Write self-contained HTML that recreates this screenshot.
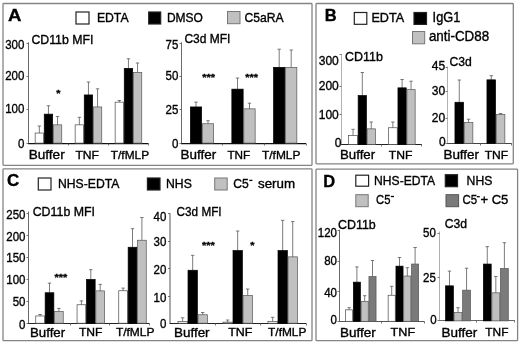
<!DOCTYPE html>
<html><head><meta charset="utf-8"><title>Figure</title>
<style>
html,body{margin:0;padding:0;background:#fff;}
svg{display:block;font-family:'Liberation Sans', Arial, Helvetica, sans-serif;fill:#000;will-change:transform;}
</style></head><body>
<svg width="520" height="345" viewBox="0 0 520 345">
<rect width="520" height="345" fill="#fff"/>
<rect x="3.0" y="3.5" width="309.00" height="161.80" rx="0.8" fill="#fff" stroke="#848484" stroke-width="1.3"/>
<rect x="316.0" y="3.5" width="197.30" height="160.30" rx="0.8" fill="#fff" stroke="#848484" stroke-width="1.3"/>
<rect x="3.0" y="168.8" width="309.00" height="171.90" rx="0.8" fill="#fff" stroke="#848484" stroke-width="1.3"/>
<rect x="316.0" y="169.2" width="201.60" height="171.50" rx="0.8" fill="#fff" stroke="#848484" stroke-width="1.3"/>
<text x="8.1" y="21.3" font-size="17.3" font-weight="bold" text-anchor="start" stroke="#000" stroke-width="0.36" textLength="13.4" lengthAdjust="spacingAndGlyphs">A</text>
<rect x="76" y="12" width="13.00" height="12.00" fill="#fff" stroke="#222" stroke-width="1.2"/>
<text x="96.9" y="22" font-size="13.0" font-weight="normal" text-anchor="start" stroke="#000" stroke-width="0.36" textLength="31.7" lengthAdjust="spacingAndGlyphs">EDTA</text>
<rect x="148.7" y="12" width="12.00" height="12.00" fill="#000" stroke="#222" stroke-width="1.2"/>
<text x="166.9" y="21.6" font-size="13.0" font-weight="normal" text-anchor="start" stroke="#000" stroke-width="0.36" textLength="36.0" lengthAdjust="spacingAndGlyphs">DMSO</text>
<rect x="227.5" y="11.5" width="12.50" height="12.20" fill="#c0c0c0" stroke="#777" stroke-width="1.0"/>
<text x="244.4" y="22" font-size="13.0" font-weight="normal" text-anchor="start" stroke="#000" stroke-width="0.36" textLength="39.2" lengthAdjust="spacingAndGlyphs">C5aRA</text>
<line x1="28.5" y1="42.3" x2="28.5" y2="143.5" stroke="#444" stroke-width="0.8"/>
<line x1="28.1" y1="143.5" x2="148.5" y2="143.5" stroke="#111" stroke-width="1.25"/>
<line x1="68.5" y1="143.5" x2="68.5" y2="145.5" stroke="#555" stroke-width="0.8"/>
<line x1="108.5" y1="143.5" x2="108.5" y2="145.5" stroke="#555" stroke-width="0.8"/>
<line x1="148.5" y1="143.5" x2="148.5" y2="145.5" stroke="#555" stroke-width="0.8"/>
<line x1="26.5" y1="43.5" x2="28.5" y2="43.5" stroke="#555" stroke-width="0.8"/>
<line x1="26.5" y1="76.5" x2="28.5" y2="76.5" stroke="#555" stroke-width="0.8"/>
<line x1="26.5" y1="109.5" x2="28.5" y2="109.5" stroke="#555" stroke-width="0.8"/>
<line x1="26.5" y1="143.5" x2="28.5" y2="143.5" stroke="#555" stroke-width="0.8"/>
<text x="5.199999999999999" y="48.6" font-size="13.0" font-weight="normal" text-anchor="start" stroke="#000" stroke-width="0.36" textLength="19.2" lengthAdjust="spacingAndGlyphs">300</text>
<text x="5.199999999999999" y="80.3" font-size="13.0" font-weight="normal" text-anchor="start" stroke="#000" stroke-width="0.36" textLength="19.2" lengthAdjust="spacingAndGlyphs">200</text>
<text x="5.199999999999999" y="113.3" font-size="13.0" font-weight="normal" text-anchor="start" stroke="#000" stroke-width="0.36" textLength="19.2" lengthAdjust="spacingAndGlyphs">100</text>
<text x="18.0" y="147.9" font-size="13.0" font-weight="normal" text-anchor="start" stroke="#000" stroke-width="0.36" textLength="6.4" lengthAdjust="spacingAndGlyphs">0</text>
<text x="31.4" y="43.5" font-size="13.0" font-weight="normal" text-anchor="start" stroke="#000" stroke-width="0.36" textLength="62.0" lengthAdjust="spacingAndGlyphs">CD11b MFI</text>
<line x1="39.35" y1="126" x2="39.35" y2="133.2" stroke="#505050" stroke-width="0.75"/>
<line x1="37.65" y1="126" x2="41.050000000000004" y2="126" stroke="#505050" stroke-width="0.75"/>
<rect x="35.15" y="133.05" width="8.40" height="10.05" fill="#fff" stroke="#4a4a4a" stroke-width="0.7"/>
<line x1="48.45" y1="105.8" x2="48.45" y2="114.3" stroke="#505050" stroke-width="0.75"/>
<line x1="46.75" y1="105.8" x2="50.150000000000006" y2="105.8" stroke="#505050" stroke-width="0.75"/>
<rect x="44.25" y="114.15" width="8.40" height="28.95" fill="#000" stroke="#000" stroke-width="0.7"/>
<line x1="57.55" y1="116.5" x2="57.55" y2="125.0" stroke="#505050" stroke-width="0.75"/>
<line x1="55.849999999999994" y1="116.5" x2="59.25" y2="116.5" stroke="#505050" stroke-width="0.75"/>
<rect x="53.35" y="124.85" width="8.40" height="18.25" fill="#c0c0c0" stroke="#555" stroke-width="0.7"/>
<line x1="79.35" y1="117.3" x2="79.35" y2="125.0" stroke="#505050" stroke-width="0.75"/>
<line x1="77.64999999999999" y1="117.3" x2="81.05" y2="117.3" stroke="#505050" stroke-width="0.75"/>
<rect x="75.15" y="124.85" width="8.40" height="18.25" fill="#fff" stroke="#4a4a4a" stroke-width="0.7"/>
<line x1="88.45" y1="82" x2="88.45" y2="95.1" stroke="#505050" stroke-width="0.75"/>
<line x1="86.75" y1="82" x2="90.15" y2="82" stroke="#505050" stroke-width="0.75"/>
<rect x="84.25" y="94.95" width="8.40" height="48.15" fill="#000" stroke="#000" stroke-width="0.7"/>
<line x1="97.55" y1="88.8" x2="97.55" y2="107.1" stroke="#505050" stroke-width="0.75"/>
<line x1="95.85" y1="88.8" x2="99.25" y2="88.8" stroke="#505050" stroke-width="0.75"/>
<rect x="93.35" y="106.95" width="8.40" height="36.15" fill="#c0c0c0" stroke="#555" stroke-width="0.7"/>
<line x1="119.35" y1="100.5" x2="119.35" y2="102.3" stroke="#505050" stroke-width="0.75"/>
<line x1="117.64999999999999" y1="100.5" x2="121.05" y2="100.5" stroke="#505050" stroke-width="0.75"/>
<rect x="115.15" y="102.15" width="8.40" height="40.95" fill="#fff" stroke="#4a4a4a" stroke-width="0.7"/>
<line x1="128.45" y1="58.75" x2="128.45" y2="68.5" stroke="#505050" stroke-width="0.75"/>
<line x1="126.74999999999999" y1="58.75" x2="130.14999999999998" y2="58.75" stroke="#505050" stroke-width="0.75"/>
<rect x="124.25" y="68.35" width="8.40" height="74.75" fill="#000" stroke="#000" stroke-width="0.7"/>
<line x1="137.55" y1="63" x2="137.55" y2="72.5" stroke="#505050" stroke-width="0.75"/>
<line x1="135.85000000000002" y1="63" x2="139.25" y2="63" stroke="#505050" stroke-width="0.75"/>
<rect x="133.35" y="72.35" width="8.40" height="70.75" fill="#c0c0c0" stroke="#555" stroke-width="0.7"/>
<text x="56.38" y="95.9" font-size="9" font-weight="bold" stroke="#000" stroke-width="0.3" textLength="4.25" lengthAdjust="spacingAndGlyphs">*</text>
<text x="28.7" y="159.0" font-size="13.0" font-weight="normal" text-anchor="start" stroke="#000" stroke-width="0.36" textLength="36.0" lengthAdjust="spacingAndGlyphs">Buffer</text>
<text x="75.4" y="158.6" font-size="11.4" font-weight="normal" text-anchor="start" stroke="#000" stroke-width="0.36" textLength="23.6" lengthAdjust="spacingAndGlyphs">TNF</text>
<text x="110.8" y="158.6" font-size="11.8" font-weight="normal" text-anchor="start" stroke="#000" stroke-width="0.36" textLength="38.3" lengthAdjust="spacingAndGlyphs">T/fMLP</text>
<line x1="181.5" y1="42.3" x2="181.5" y2="143.5" stroke="#444" stroke-width="0.8"/>
<line x1="181.1" y1="143.5" x2="306" y2="143.5" stroke="#111" stroke-width="1.25"/>
<line x1="222.5" y1="143.5" x2="222.5" y2="145.5" stroke="#555" stroke-width="0.8"/>
<line x1="264.5" y1="143.5" x2="264.5" y2="145.5" stroke="#555" stroke-width="0.8"/>
<line x1="306.5" y1="143.5" x2="306.5" y2="145.5" stroke="#555" stroke-width="0.8"/>
<line x1="179.5" y1="43.5" x2="181.5" y2="43.5" stroke="#555" stroke-width="0.8"/>
<line x1="179.5" y1="76.5" x2="181.5" y2="76.5" stroke="#555" stroke-width="0.8"/>
<line x1="179.5" y1="109.5" x2="181.5" y2="109.5" stroke="#555" stroke-width="0.8"/>
<line x1="179.5" y1="143.5" x2="181.5" y2="143.5" stroke="#555" stroke-width="0.8"/>
<text x="165.5" y="48.6" font-size="13.0" font-weight="normal" text-anchor="start" stroke="#000" stroke-width="0.36" textLength="12.8" lengthAdjust="spacingAndGlyphs">75</text>
<text x="165.5" y="80.3" font-size="13.0" font-weight="normal" text-anchor="start" stroke="#000" stroke-width="0.36" textLength="12.8" lengthAdjust="spacingAndGlyphs">50</text>
<text x="165.5" y="113.6" font-size="13.0" font-weight="normal" text-anchor="start" stroke="#000" stroke-width="0.36" textLength="12.8" lengthAdjust="spacingAndGlyphs">25</text>
<text x="171.9" y="147.8" font-size="13.0" font-weight="normal" text-anchor="start" stroke="#000" stroke-width="0.36" textLength="6.4" lengthAdjust="spacingAndGlyphs">0</text>
<text x="184.4" y="43" font-size="13.0" font-weight="normal" text-anchor="start" stroke="#000" stroke-width="0.36" textLength="46.0" lengthAdjust="spacingAndGlyphs">C3d MFI</text>
<line x1="196.0" y1="102.1" x2="196.0" y2="107.1" stroke="#505050" stroke-width="0.75"/>
<line x1="194.3" y1="102.1" x2="197.7" y2="102.1" stroke="#505050" stroke-width="0.75"/>
<rect x="190.35" y="106.95" width="11.30" height="36.15" fill="#000" stroke="#000" stroke-width="0.7"/>
<line x1="208.0" y1="120.7" x2="208.0" y2="123.9" stroke="#505050" stroke-width="0.75"/>
<line x1="206.3" y1="120.7" x2="209.7" y2="120.7" stroke="#505050" stroke-width="0.75"/>
<rect x="202.35" y="123.75" width="11.30" height="19.35" fill="#c0c0c0" stroke="#555" stroke-width="0.7"/>
<line x1="237.5" y1="78" x2="237.5" y2="89.3" stroke="#505050" stroke-width="0.75"/>
<line x1="235.8" y1="78" x2="239.2" y2="78" stroke="#505050" stroke-width="0.75"/>
<rect x="231.85" y="89.15" width="11.30" height="53.95" fill="#000" stroke="#000" stroke-width="0.7"/>
<line x1="249.5" y1="103.2" x2="249.5" y2="109.0" stroke="#505050" stroke-width="0.75"/>
<line x1="247.8" y1="103.2" x2="251.2" y2="103.2" stroke="#505050" stroke-width="0.75"/>
<rect x="243.85" y="108.85" width="11.30" height="34.25" fill="#c0c0c0" stroke="#555" stroke-width="0.7"/>
<line x1="279.2" y1="49.2" x2="279.2" y2="67.5" stroke="#505050" stroke-width="0.75"/>
<line x1="277.5" y1="49.2" x2="280.9" y2="49.2" stroke="#505050" stroke-width="0.75"/>
<rect x="273.55" y="67.35" width="11.30" height="75.75" fill="#000" stroke="#000" stroke-width="0.7"/>
<line x1="291.2" y1="50" x2="291.2" y2="67.5" stroke="#505050" stroke-width="0.75"/>
<line x1="289.5" y1="50" x2="292.9" y2="50" stroke="#505050" stroke-width="0.75"/>
<rect x="285.55" y="67.35" width="11.30" height="75.75" fill="#c0c0c0" stroke="#555" stroke-width="0.7"/>
<text x="202.22" y="80.3" font-size="9" font-weight="bold" stroke="#000" stroke-width="0.3" textLength="12.75" lengthAdjust="spacingAndGlyphs">***</text>
<text x="245.32" y="80.3" font-size="9" font-weight="bold" stroke="#000" stroke-width="0.3" textLength="12.75" lengthAdjust="spacingAndGlyphs">***</text>
<text x="180.6" y="159.0" font-size="13.0" font-weight="normal" text-anchor="start" stroke="#000" stroke-width="0.36" textLength="35.7" lengthAdjust="spacingAndGlyphs">Buffer</text>
<text x="227.4" y="158.6" font-size="11.4" font-weight="normal" text-anchor="start" stroke="#000" stroke-width="0.36" textLength="22.8" lengthAdjust="spacingAndGlyphs">TNF</text>
<text x="262.0" y="158.6" font-size="11.8" font-weight="normal" text-anchor="start" stroke="#000" stroke-width="0.36" textLength="38.4" lengthAdjust="spacingAndGlyphs">T/fMLP</text>
<text x="324.7" y="20.8" font-size="17.3" font-weight="bold" text-anchor="start" stroke="#000" stroke-width="0.36" textLength="11.9" lengthAdjust="spacingAndGlyphs">B</text>
<rect x="354.3" y="12.5" width="12.50" height="11.80" fill="#fff" stroke="#222" stroke-width="1.2"/>
<text x="371.4" y="22" font-size="13.0" font-weight="normal" text-anchor="start" stroke="#000" stroke-width="0.36" textLength="32.7" lengthAdjust="spacingAndGlyphs">EDTA</text>
<rect x="414" y="12.5" width="12.50" height="11.90" fill="#000" stroke="#222" stroke-width="1.2"/>
<text x="432.6" y="22.2" font-size="14" font-weight="normal" text-anchor="start" stroke="#000" stroke-width="0.36" textLength="27.8" lengthAdjust="spacingAndGlyphs">IgG1</text>
<rect x="412.5" y="31.5" width="12.20" height="12.30" fill="#c0c0c0" stroke="#777" stroke-width="1.0"/>
<text x="428.9" y="41.4" font-size="14" font-weight="normal" text-anchor="start" stroke="#000" stroke-width="0.36" textLength="60.2" lengthAdjust="spacingAndGlyphs">anti-CD88</text>
<line x1="341.5" y1="54" x2="341.5" y2="144.5" stroke="#a0a0a0" stroke-width="0.8"/>
<line x1="341.1" y1="144.5" x2="421.8" y2="144.5" stroke="#222" stroke-width="1.0"/>
<line x1="381.5" y1="144.5" x2="381.5" y2="146.5" stroke="#555" stroke-width="0.8"/>
<line x1="421.5" y1="144.5" x2="421.5" y2="146.5" stroke="#555" stroke-width="0.8"/>
<line x1="339.5" y1="54.5" x2="341.5" y2="54.5" stroke="#555" stroke-width="0.8"/>
<line x1="339.5" y1="86.5" x2="341.5" y2="86.5" stroke="#555" stroke-width="0.8"/>
<line x1="339.5" y1="114.5" x2="341.5" y2="114.5" stroke="#555" stroke-width="0.8"/>
<text x="318.7" y="64.5" font-size="13.0" font-weight="normal" text-anchor="start" stroke="#000" stroke-width="0.36" textLength="20.1" lengthAdjust="spacingAndGlyphs">300</text>
<text x="318.7" y="90.3" font-size="13.0" font-weight="normal" text-anchor="start" stroke="#000" stroke-width="0.36" textLength="20.1" lengthAdjust="spacingAndGlyphs">200</text>
<text x="318.7" y="118.9" font-size="13.0" font-weight="normal" text-anchor="start" stroke="#000" stroke-width="0.36" textLength="20.1" lengthAdjust="spacingAndGlyphs">100</text>
<text x="334.7" y="146.5" font-size="13.0" font-weight="normal" text-anchor="start" stroke="#000" stroke-width="0.36" textLength="6.7" lengthAdjust="spacingAndGlyphs">0</text>
<text x="345.1" y="61.2" font-size="13.0" font-weight="normal" text-anchor="start" stroke="#000" stroke-width="0.36" textLength="37.8" lengthAdjust="spacingAndGlyphs">CD11b</text>
<line x1="353.05" y1="129.3" x2="353.05" y2="135.6" stroke="#505050" stroke-width="0.75"/>
<line x1="351.35" y1="129.3" x2="354.75" y2="129.3" stroke="#505050" stroke-width="0.75"/>
<rect x="348.65" y="135.45" width="8.80" height="8.95" fill="#fff" stroke="#4a4a4a" stroke-width="0.7"/>
<line x1="362.3" y1="72.5" x2="362.3" y2="95.7" stroke="#505050" stroke-width="0.75"/>
<line x1="360.6" y1="72.5" x2="364.0" y2="72.5" stroke="#505050" stroke-width="0.75"/>
<rect x="358.15" y="95.55" width="8.30" height="48.85" fill="#000" stroke="#000" stroke-width="0.7"/>
<line x1="371.25" y1="122" x2="371.25" y2="129.0" stroke="#505050" stroke-width="0.75"/>
<line x1="369.55" y1="122" x2="372.95" y2="122" stroke="#505050" stroke-width="0.75"/>
<rect x="367.15" y="128.85" width="8.20" height="15.55" fill="#c0c0c0" stroke="#555" stroke-width="0.7"/>
<line x1="392.85" y1="122" x2="392.85" y2="127.9" stroke="#505050" stroke-width="0.75"/>
<line x1="391.15000000000003" y1="122" x2="394.55" y2="122" stroke="#505050" stroke-width="0.75"/>
<rect x="388.45" y="127.75" width="8.80" height="16.65" fill="#fff" stroke="#4a4a4a" stroke-width="0.7"/>
<line x1="402.1" y1="79.5" x2="402.1" y2="88.0" stroke="#505050" stroke-width="0.75"/>
<line x1="400.40000000000003" y1="79.5" x2="403.8" y2="79.5" stroke="#505050" stroke-width="0.75"/>
<rect x="397.95" y="87.85" width="8.30" height="56.55" fill="#000" stroke="#000" stroke-width="0.7"/>
<line x1="411.05" y1="81.2" x2="411.05" y2="89.8" stroke="#505050" stroke-width="0.75"/>
<line x1="409.35" y1="81.2" x2="412.75" y2="81.2" stroke="#505050" stroke-width="0.75"/>
<rect x="406.95" y="89.65" width="8.20" height="54.75" fill="#c0c0c0" stroke="#555" stroke-width="0.7"/>
<text x="340.0" y="159.0" font-size="13.0" font-weight="normal" text-anchor="start" stroke="#000" stroke-width="0.36" textLength="35.1" lengthAdjust="spacingAndGlyphs">Buffer</text>
<text x="388.8" y="158.6" font-size="11.4" font-weight="normal" text-anchor="start" stroke="#000" stroke-width="0.36" textLength="23.6" lengthAdjust="spacingAndGlyphs">TNF</text>
<line x1="447.5" y1="66.5" x2="447.5" y2="143.5" stroke="#a0a0a0" stroke-width="0.8"/>
<line x1="447.1" y1="143.5" x2="511.7" y2="143.5" stroke="#444" stroke-width="1.0"/>
<line x1="480.5" y1="143.5" x2="480.5" y2="145.5" stroke="#555" stroke-width="0.8"/>
<line x1="511.5" y1="143.5" x2="511.5" y2="145.5" stroke="#555" stroke-width="0.8"/>
<line x1="445.5" y1="67.5" x2="447.5" y2="67.5" stroke="#555" stroke-width="0.8"/>
<line x1="445.5" y1="91.5" x2="447.5" y2="91.5" stroke="#555" stroke-width="0.8"/>
<line x1="445.5" y1="118.5" x2="447.5" y2="118.5" stroke="#555" stroke-width="0.8"/>
<line x1="445.5" y1="143.5" x2="447.5" y2="143.5" stroke="#555" stroke-width="0.8"/>
<text x="431.8" y="70.0" font-size="13.0" font-weight="normal" text-anchor="start" stroke="#000" stroke-width="0.36" textLength="13.4" lengthAdjust="spacingAndGlyphs">45</text>
<text x="431.8" y="94.8" font-size="13.0" font-weight="normal" text-anchor="start" stroke="#000" stroke-width="0.36" textLength="13.4" lengthAdjust="spacingAndGlyphs">30</text>
<text x="431.8" y="122.4" font-size="13.0" font-weight="normal" text-anchor="start" stroke="#000" stroke-width="0.36" textLength="13.4" lengthAdjust="spacingAndGlyphs">20</text>
<text x="438.90000000000003" y="146.2" font-size="13.0" font-weight="normal" text-anchor="start" stroke="#000" stroke-width="0.36" textLength="6.7" lengthAdjust="spacingAndGlyphs">0</text>
<text x="449.4" y="65.5" font-size="13.0" font-weight="normal" text-anchor="start" stroke="#000" stroke-width="0.36" textLength="22.3" lengthAdjust="spacingAndGlyphs">C3d</text>
<line x1="459.25" y1="80" x2="459.25" y2="102.4" stroke="#505050" stroke-width="0.75"/>
<line x1="457.55" y1="80" x2="460.95" y2="80" stroke="#505050" stroke-width="0.75"/>
<rect x="454.95" y="102.25" width="8.60" height="41.05" fill="#000" stroke="#000" stroke-width="0.7"/>
<line x1="468.55" y1="119.2" x2="468.55" y2="122.6" stroke="#505050" stroke-width="0.75"/>
<line x1="466.85" y1="119.2" x2="470.25" y2="119.2" stroke="#505050" stroke-width="0.75"/>
<rect x="464.25" y="122.45" width="8.60" height="20.85" fill="#c0c0c0" stroke="#555" stroke-width="0.7"/>
<line x1="491.25" y1="75.7" x2="491.25" y2="80.0" stroke="#505050" stroke-width="0.75"/>
<line x1="489.55" y1="75.7" x2="492.95" y2="75.7" stroke="#505050" stroke-width="0.75"/>
<rect x="486.95" y="79.85" width="8.60" height="63.45" fill="#000" stroke="#000" stroke-width="0.7"/>
<line x1="500.55" y1="113.5" x2="500.55" y2="114.6" stroke="#505050" stroke-width="0.75"/>
<line x1="498.85" y1="113.5" x2="502.25" y2="113.5" stroke="#505050" stroke-width="0.75"/>
<rect x="496.25" y="114.45" width="8.60" height="28.85" fill="#c0c0c0" stroke="#555" stroke-width="0.7"/>
<text x="443.4" y="159.0" font-size="13.0" font-weight="normal" text-anchor="start" stroke="#000" stroke-width="0.36" textLength="35.7" lengthAdjust="spacingAndGlyphs">Buffer</text>
<text x="484.7" y="158.6" font-size="11.4" font-weight="normal" text-anchor="start" stroke="#000" stroke-width="0.36" textLength="23.5" lengthAdjust="spacingAndGlyphs">TNF</text>
<text x="6.9" y="186.3" font-size="17.3" font-weight="bold" text-anchor="start" stroke="#000" stroke-width="0.36" textLength="12.2" lengthAdjust="spacingAndGlyphs">C</text>
<rect x="38.3" y="178" width="12.70" height="12.00" fill="#fff" stroke="#222" stroke-width="1.2"/>
<text x="58.0" y="188" font-size="13.0" font-weight="normal" text-anchor="start" stroke="#000" stroke-width="0.36" textLength="61.4" lengthAdjust="spacingAndGlyphs">NHS-EDTA</text>
<rect x="147.4" y="178" width="12.60" height="12.00" fill="#000" stroke="#222" stroke-width="1.2"/>
<text x="166.0" y="188" font-size="13.0" font-weight="normal" text-anchor="start" stroke="#000" stroke-width="0.36" textLength="25.8" lengthAdjust="spacingAndGlyphs">NHS</text>
<rect x="214.7" y="178" width="12.50" height="12.00" fill="#c0c0c0" stroke="#777" stroke-width="1.0"/>
<text x="233.2" y="188" font-size="13.0" font-weight="normal" text-anchor="start" stroke="#000" stroke-width="0.36" textLength="15.5" lengthAdjust="spacingAndGlyphs">C5</text>
<line x1="249.3" y1="180.4" x2="252.4" y2="180.4" stroke="#000" stroke-width="1.3"/>
<text x="258.0" y="188" font-size="13.0" font-weight="normal" text-anchor="start" stroke="#000" stroke-width="0.36" textLength="37.0" lengthAdjust="spacingAndGlyphs">serum</text>
<line x1="28.5" y1="211.5" x2="28.5" y2="323.5" stroke="#444" stroke-width="0.8"/>
<line x1="28.1" y1="323.5" x2="149.5" y2="323.5" stroke="#222" stroke-width="1.0"/>
<line x1="70.5" y1="323.5" x2="70.5" y2="325.5" stroke="#555" stroke-width="0.8"/>
<line x1="109.5" y1="323.5" x2="109.5" y2="325.5" stroke="#555" stroke-width="0.8"/>
<line x1="149.5" y1="323.5" x2="149.5" y2="325.5" stroke="#555" stroke-width="0.8"/>
<line x1="26.5" y1="213.5" x2="28.5" y2="213.5" stroke="#555" stroke-width="0.8"/>
<line x1="26.5" y1="235.5" x2="28.5" y2="235.5" stroke="#555" stroke-width="0.8"/>
<line x1="26.5" y1="257.5" x2="28.5" y2="257.5" stroke="#555" stroke-width="0.8"/>
<line x1="26.5" y1="279.5" x2="28.5" y2="279.5" stroke="#555" stroke-width="0.8"/>
<line x1="26.5" y1="301.5" x2="28.5" y2="301.5" stroke="#555" stroke-width="0.8"/>
<line x1="26.5" y1="323.5" x2="28.5" y2="323.5" stroke="#555" stroke-width="0.8"/>
<text x="6.300000000000001" y="218.9" font-size="13.0" font-weight="normal" text-anchor="start" stroke="#000" stroke-width="0.36" textLength="19.2" lengthAdjust="spacingAndGlyphs">250</text>
<text x="6.300000000000001" y="241.0" font-size="13.0" font-weight="normal" text-anchor="start" stroke="#000" stroke-width="0.36" textLength="19.2" lengthAdjust="spacingAndGlyphs">200</text>
<text x="6.300000000000001" y="262.1" font-size="13.0" font-weight="normal" text-anchor="start" stroke="#000" stroke-width="0.36" textLength="19.2" lengthAdjust="spacingAndGlyphs">150</text>
<text x="6.300000000000001" y="283.5" font-size="13.0" font-weight="normal" text-anchor="start" stroke="#000" stroke-width="0.36" textLength="19.2" lengthAdjust="spacingAndGlyphs">100</text>
<text x="12.7" y="305.5" font-size="13.0" font-weight="normal" text-anchor="start" stroke="#000" stroke-width="0.36" textLength="12.8" lengthAdjust="spacingAndGlyphs">50</text>
<text x="19.1" y="328.7" font-size="13.0" font-weight="normal" text-anchor="start" stroke="#000" stroke-width="0.36" textLength="6.4" lengthAdjust="spacingAndGlyphs">0</text>
<text x="32.7" y="215.5" font-size="13.0" font-weight="normal" text-anchor="start" stroke="#000" stroke-width="0.36" textLength="62.3" lengthAdjust="spacingAndGlyphs">CD11b MFI</text>
<line x1="40.1" y1="314.5" x2="40.1" y2="316.1" stroke="#505050" stroke-width="0.75"/>
<line x1="38.4" y1="314.5" x2="41.800000000000004" y2="314.5" stroke="#505050" stroke-width="0.75"/>
<rect x="35.75" y="315.95" width="8.70" height="7.25" fill="#fff" stroke="#4a4a4a" stroke-width="0.7"/>
<line x1="49.5" y1="283.1" x2="49.5" y2="292.9" stroke="#505050" stroke-width="0.75"/>
<line x1="47.8" y1="283.1" x2="51.2" y2="283.1" stroke="#505050" stroke-width="0.75"/>
<rect x="45.15" y="292.75" width="8.70" height="30.45" fill="#000" stroke="#000" stroke-width="0.7"/>
<line x1="58.9" y1="308.4" x2="58.9" y2="311.6" stroke="#505050" stroke-width="0.75"/>
<line x1="57.199999999999996" y1="308.4" x2="60.6" y2="308.4" stroke="#505050" stroke-width="0.75"/>
<rect x="54.55" y="311.45" width="8.70" height="11.75" fill="#c0c0c0" stroke="#555" stroke-width="0.7"/>
<line x1="81.4" y1="300.9" x2="81.4" y2="304.9" stroke="#505050" stroke-width="0.75"/>
<line x1="79.7" y1="300.9" x2="83.10000000000001" y2="300.9" stroke="#505050" stroke-width="0.75"/>
<rect x="77.05" y="304.75" width="8.70" height="18.45" fill="#fff" stroke="#4a4a4a" stroke-width="0.7"/>
<line x1="90.8" y1="269.7" x2="90.8" y2="279.6" stroke="#505050" stroke-width="0.75"/>
<line x1="89.1" y1="269.7" x2="92.5" y2="269.7" stroke="#505050" stroke-width="0.75"/>
<rect x="86.45" y="279.45" width="8.70" height="43.75" fill="#000" stroke="#000" stroke-width="0.7"/>
<line x1="100.2" y1="284.4" x2="100.2" y2="291.0" stroke="#505050" stroke-width="0.75"/>
<line x1="98.5" y1="284.4" x2="101.9" y2="284.4" stroke="#505050" stroke-width="0.75"/>
<rect x="95.85" y="290.85" width="8.70" height="32.35" fill="#c0c0c0" stroke="#555" stroke-width="0.7"/>
<line x1="123.1" y1="288.1" x2="123.1" y2="290.9" stroke="#505050" stroke-width="0.75"/>
<line x1="121.39999999999999" y1="288.1" x2="124.8" y2="288.1" stroke="#505050" stroke-width="0.75"/>
<rect x="118.75" y="290.75" width="8.70" height="32.45" fill="#fff" stroke="#4a4a4a" stroke-width="0.7"/>
<line x1="132.5" y1="228.7" x2="132.5" y2="247.4" stroke="#505050" stroke-width="0.75"/>
<line x1="130.8" y1="228.7" x2="134.2" y2="228.7" stroke="#505050" stroke-width="0.75"/>
<rect x="128.15" y="247.25" width="8.70" height="75.95" fill="#000" stroke="#000" stroke-width="0.7"/>
<line x1="141.9" y1="217.5" x2="141.9" y2="240.4" stroke="#505050" stroke-width="0.75"/>
<line x1="140.20000000000002" y1="217.5" x2="143.6" y2="217.5" stroke="#505050" stroke-width="0.75"/>
<rect x="137.55" y="240.25" width="8.70" height="82.95" fill="#c0c0c0" stroke="#555" stroke-width="0.7"/>
<text x="54.62" y="280.3" font-size="9" font-weight="bold" stroke="#000" stroke-width="0.3" textLength="12.75" lengthAdjust="spacingAndGlyphs">***</text>
<text x="30.0" y="336.5" font-size="13.0" font-weight="normal" text-anchor="start" stroke="#000" stroke-width="0.36" textLength="35.1" lengthAdjust="spacingAndGlyphs">Buffer</text>
<text x="78.9" y="336.1" font-size="11.4" font-weight="normal" text-anchor="start" stroke="#000" stroke-width="0.36" textLength="23.5" lengthAdjust="spacingAndGlyphs">TNF</text>
<text x="115.9" y="336.1" font-size="11.8" font-weight="normal" text-anchor="start" stroke="#000" stroke-width="0.36" textLength="38.5" lengthAdjust="spacingAndGlyphs">T/fMLP</text>
<line x1="170.0" y1="213.3" x2="170.0" y2="323.5" stroke="#8c8c8c" stroke-width="1.5"/>
<line x1="169.6" y1="323.5" x2="306.3" y2="323.5" stroke="#222" stroke-width="1.0"/>
<line x1="215.5" y1="323.5" x2="215.5" y2="325.5" stroke="#555" stroke-width="0.8"/>
<line x1="260.5" y1="323.5" x2="260.5" y2="325.5" stroke="#555" stroke-width="0.8"/>
<line x1="306.5" y1="323.5" x2="306.5" y2="325.5" stroke="#555" stroke-width="0.8"/>
<line x1="168.0" y1="213.5" x2="170.0" y2="213.5" stroke="#555" stroke-width="0.8"/>
<line x1="168.0" y1="241.5" x2="170.0" y2="241.5" stroke="#555" stroke-width="0.8"/>
<line x1="168.0" y1="268.5" x2="170.0" y2="268.5" stroke="#555" stroke-width="0.8"/>
<line x1="168.0" y1="296.5" x2="170.0" y2="296.5" stroke="#555" stroke-width="0.8"/>
<text x="153.5" y="221.1" font-size="13.0" font-weight="normal" text-anchor="start" stroke="#000" stroke-width="0.36" textLength="12.8" lengthAdjust="spacingAndGlyphs">40</text>
<text x="153.5" y="246.4" font-size="13.0" font-weight="normal" text-anchor="start" stroke="#000" stroke-width="0.36" textLength="12.8" lengthAdjust="spacingAndGlyphs">30</text>
<text x="153.5" y="273.8" font-size="13.0" font-weight="normal" text-anchor="start" stroke="#000" stroke-width="0.36" textLength="12.8" lengthAdjust="spacingAndGlyphs">20</text>
<text x="153.5" y="302.3" font-size="13.0" font-weight="normal" text-anchor="start" stroke="#000" stroke-width="0.36" textLength="12.8" lengthAdjust="spacingAndGlyphs">10</text>
<text x="159.9" y="328.3" font-size="13.0" font-weight="normal" text-anchor="start" stroke="#000" stroke-width="0.36" textLength="6.4" lengthAdjust="spacingAndGlyphs">0</text>
<text x="176.6" y="215.5" font-size="13.0" font-weight="normal" text-anchor="start" stroke="#000" stroke-width="0.36" textLength="45.0" lengthAdjust="spacingAndGlyphs">C3d MFI</text>
<line x1="182.62" y1="317.8" x2="182.62" y2="321.5" stroke="#505050" stroke-width="0.75"/>
<line x1="180.92000000000002" y1="317.8" x2="184.32" y2="317.8" stroke="#505050" stroke-width="0.75"/>
<rect x="177.95" y="321.35" width="9.35" height="1.85" fill="#fff" stroke="#4a4a4a" stroke-width="0.7"/>
<line x1="192.68" y1="255.3" x2="192.68" y2="270.4" stroke="#505050" stroke-width="0.75"/>
<line x1="190.98000000000002" y1="255.3" x2="194.38" y2="255.3" stroke="#505050" stroke-width="0.75"/>
<rect x="188.00" y="270.25" width="9.35" height="52.95" fill="#000" stroke="#000" stroke-width="0.7"/>
<line x1="202.72" y1="312.5" x2="202.72" y2="314.9" stroke="#505050" stroke-width="0.75"/>
<line x1="201.02" y1="312.5" x2="204.42" y2="312.5" stroke="#505050" stroke-width="0.75"/>
<rect x="198.05" y="314.75" width="9.35" height="8.45" fill="#c0c0c0" stroke="#555" stroke-width="0.7"/>
<line x1="227.62" y1="320.0" x2="227.62" y2="322.3" stroke="#505050" stroke-width="0.75"/>
<line x1="225.92000000000002" y1="320.0" x2="229.32" y2="320.0" stroke="#505050" stroke-width="0.75"/>
<rect x="222.95" y="322.15" width="9.35" height="1.05" fill="#fff" stroke="#4a4a4a" stroke-width="0.7"/>
<line x1="237.68" y1="231.0" x2="237.68" y2="250.7" stroke="#505050" stroke-width="0.75"/>
<line x1="235.98000000000002" y1="231.0" x2="239.38" y2="231.0" stroke="#505050" stroke-width="0.75"/>
<rect x="233.00" y="250.55" width="9.35" height="72.65" fill="#000" stroke="#000" stroke-width="0.7"/>
<line x1="247.72" y1="289.0" x2="247.72" y2="295.7" stroke="#505050" stroke-width="0.75"/>
<line x1="246.02" y1="289.0" x2="249.42" y2="289.0" stroke="#505050" stroke-width="0.75"/>
<rect x="243.05" y="295.55" width="9.35" height="27.65" fill="#c0c0c0" stroke="#555" stroke-width="0.7"/>
<line x1="272.62" y1="317.3" x2="272.62" y2="321.5" stroke="#505050" stroke-width="0.75"/>
<line x1="270.92" y1="317.3" x2="274.32" y2="317.3" stroke="#505050" stroke-width="0.75"/>
<rect x="267.95" y="321.35" width="9.35" height="1.85" fill="#fff" stroke="#4a4a4a" stroke-width="0.7"/>
<line x1="282.68" y1="220.3" x2="282.68" y2="250.7" stroke="#505050" stroke-width="0.75"/>
<line x1="280.98" y1="220.3" x2="284.38" y2="220.3" stroke="#505050" stroke-width="0.75"/>
<rect x="278.00" y="250.55" width="9.35" height="72.65" fill="#000" stroke="#000" stroke-width="0.7"/>
<line x1="292.73" y1="221.6" x2="292.73" y2="257.0" stroke="#505050" stroke-width="0.75"/>
<line x1="291.03000000000003" y1="221.6" x2="294.43" y2="221.6" stroke="#505050" stroke-width="0.75"/>
<rect x="288.05" y="256.85" width="9.35" height="66.35" fill="#c0c0c0" stroke="#555" stroke-width="0.7"/>
<text x="202.12" y="248.1" font-size="9" font-weight="bold" stroke="#000" stroke-width="0.3" textLength="12.75" lengthAdjust="spacingAndGlyphs">***</text>
<text x="250.38" y="248.1" font-size="9" font-weight="bold" stroke="#000" stroke-width="0.3" textLength="4.25" lengthAdjust="spacingAndGlyphs">*</text>
<text x="174.0" y="336.5" font-size="13.0" font-weight="normal" text-anchor="start" stroke="#000" stroke-width="0.36" textLength="35.6" lengthAdjust="spacingAndGlyphs">Buffer</text>
<text x="228.2" y="336.1" font-size="11.4" font-weight="normal" text-anchor="start" stroke="#000" stroke-width="0.36" textLength="24.2" lengthAdjust="spacingAndGlyphs">TNF</text>
<text x="268.1" y="336.1" font-size="11.8" font-weight="normal" text-anchor="start" stroke="#000" stroke-width="0.36" textLength="38.3" lengthAdjust="spacingAndGlyphs">T/fMLP</text>
<text x="323.3" y="187.3" font-size="17.3" font-weight="bold" text-anchor="start" stroke="#000" stroke-width="0.36" textLength="11.9" lengthAdjust="spacingAndGlyphs">D</text>
<rect x="355.8" y="175.2" width="12.80" height="11.00" fill="#fff" stroke="#222" stroke-width="1.2"/>
<text x="374.1" y="184.8" font-size="13.0" font-weight="normal" text-anchor="start" stroke="#000" stroke-width="0.36" textLength="61.0" lengthAdjust="spacingAndGlyphs">NHS-EDTA</text>
<rect x="445.3" y="174.7" width="12.20" height="12.00" fill="#000" stroke="#222" stroke-width="1.2"/>
<text x="466.6" y="184.8" font-size="13.0" font-weight="normal" text-anchor="start" stroke="#000" stroke-width="0.36" textLength="25.8" lengthAdjust="spacingAndGlyphs">NHS</text>
<rect x="355.8" y="194.7" width="12.40" height="12.00" fill="#c0c0c0" stroke="#777" stroke-width="1.0"/>
<text x="376.0" y="204" font-size="13.0" font-weight="normal" text-anchor="start" stroke="#000" stroke-width="0.36" textLength="14.4" lengthAdjust="spacingAndGlyphs">C5</text>
<line x1="390.8" y1="196.5" x2="394" y2="196.5" stroke="#000" stroke-width="1.3"/>
<rect x="446" y="194.7" width="12.60" height="12.00" fill="#7a7a7a" stroke="#555" stroke-width="1.0"/>
<text x="462.6" y="204" font-size="13.0" font-weight="normal" text-anchor="start" stroke="#000" stroke-width="0.36" textLength="14.6" lengthAdjust="spacingAndGlyphs">C5</text>
<line x1="476.8" y1="196.7" x2="479.8" y2="196.7" stroke="#000" stroke-width="1.3"/>
<text x="480.4" y="204" font-size="13.0" font-weight="normal" text-anchor="start" stroke="#000" stroke-width="0.36" textLength="28.0" lengthAdjust="spacingAndGlyphs">+ C5</text>
<line x1="339.5" y1="229.8" x2="339.5" y2="321.5" stroke="#444" stroke-width="0.8"/>
<line x1="339.1" y1="321.5" x2="424.5" y2="321.5" stroke="#555" stroke-width="1.0"/>
<line x1="381.5" y1="321.5" x2="381.5" y2="323.5" stroke="#555" stroke-width="0.8"/>
<line x1="424.5" y1="321.5" x2="424.5" y2="323.5" stroke="#555" stroke-width="0.8"/>
<line x1="337.5" y1="230.5" x2="339.5" y2="230.5" stroke="#555" stroke-width="0.8"/>
<line x1="337.5" y1="261.5" x2="339.5" y2="261.5" stroke="#555" stroke-width="0.8"/>
<line x1="337.5" y1="291.5" x2="339.5" y2="291.5" stroke="#555" stroke-width="0.8"/>
<line x1="337.5" y1="321.5" x2="339.5" y2="321.5" stroke="#555" stroke-width="0.8"/>
<text x="317.8" y="236.7" font-size="13.0" font-weight="normal" text-anchor="start" stroke="#000" stroke-width="0.36" textLength="19.2" lengthAdjust="spacingAndGlyphs">120</text>
<text x="324.2" y="264.9" font-size="13.0" font-weight="normal" text-anchor="start" stroke="#000" stroke-width="0.36" textLength="12.8" lengthAdjust="spacingAndGlyphs">80</text>
<text x="324.2" y="296.5" font-size="13.0" font-weight="normal" text-anchor="start" stroke="#000" stroke-width="0.36" textLength="12.8" lengthAdjust="spacingAndGlyphs">40</text>
<text x="330.6" y="323.5" font-size="13.0" font-weight="normal" text-anchor="start" stroke="#000" stroke-width="0.36" textLength="6.4" lengthAdjust="spacingAndGlyphs">0</text>
<text x="338.0" y="228.5" font-size="13.0" font-weight="normal" text-anchor="start" stroke="#000" stroke-width="0.36" textLength="37.8" lengthAdjust="spacingAndGlyphs">CD11b</text>
<line x1="349.1" y1="307.7" x2="349.1" y2="310.0" stroke="#505050" stroke-width="0.75"/>
<line x1="347.40000000000003" y1="307.7" x2="350.8" y2="307.7" stroke="#505050" stroke-width="0.75"/>
<rect x="345.55" y="309.85" width="7.10" height="11.45" fill="#fff" stroke="#4a4a4a" stroke-width="0.7"/>
<line x1="356.9" y1="266.9" x2="356.9" y2="282.3" stroke="#505050" stroke-width="0.75"/>
<line x1="355.2" y1="266.9" x2="358.59999999999997" y2="266.9" stroke="#505050" stroke-width="0.75"/>
<rect x="353.35" y="282.15" width="7.10" height="39.15" fill="#000" stroke="#000" stroke-width="0.7"/>
<line x1="364.7" y1="295.7" x2="364.7" y2="301.5" stroke="#505050" stroke-width="0.75"/>
<line x1="363.0" y1="295.7" x2="366.4" y2="295.7" stroke="#505050" stroke-width="0.75"/>
<rect x="361.15" y="301.35" width="7.10" height="19.95" fill="#c0c0c0" stroke="#555" stroke-width="0.7"/>
<line x1="372.5" y1="260.5" x2="372.5" y2="276.7" stroke="#505050" stroke-width="0.75"/>
<line x1="370.8" y1="260.5" x2="374.2" y2="260.5" stroke="#505050" stroke-width="0.75"/>
<rect x="368.95" y="276.55" width="7.10" height="44.75" fill="#7a7a7a" stroke="#555" stroke-width="0.7"/>
<line x1="391.7" y1="286.3" x2="391.7" y2="295.4" stroke="#505050" stroke-width="0.75"/>
<line x1="390.0" y1="286.3" x2="393.4" y2="286.3" stroke="#505050" stroke-width="0.75"/>
<rect x="388.15" y="295.25" width="7.10" height="26.05" fill="#fff" stroke="#4a4a4a" stroke-width="0.7"/>
<line x1="399.5" y1="257.5" x2="399.5" y2="266.3" stroke="#505050" stroke-width="0.75"/>
<line x1="397.8" y1="257.5" x2="401.2" y2="257.5" stroke="#505050" stroke-width="0.75"/>
<rect x="395.95" y="266.15" width="7.10" height="55.15" fill="#000" stroke="#000" stroke-width="0.7"/>
<line x1="407.3" y1="267.7" x2="407.3" y2="276.2" stroke="#505050" stroke-width="0.75"/>
<line x1="405.6" y1="267.7" x2="409.0" y2="267.7" stroke="#505050" stroke-width="0.75"/>
<rect x="403.75" y="276.05" width="7.10" height="45.25" fill="#c0c0c0" stroke="#555" stroke-width="0.7"/>
<line x1="415.1" y1="247.5" x2="415.1" y2="264.2" stroke="#505050" stroke-width="0.75"/>
<line x1="413.40000000000003" y1="247.5" x2="416.8" y2="247.5" stroke="#505050" stroke-width="0.75"/>
<rect x="411.55" y="264.05" width="7.10" height="57.25" fill="#7a7a7a" stroke="#555" stroke-width="0.7"/>
<text x="340.0" y="336.5" font-size="13.0" font-weight="normal" text-anchor="start" stroke="#000" stroke-width="0.36" textLength="35.7" lengthAdjust="spacingAndGlyphs">Buffer</text>
<text x="390.6" y="336.1" font-size="11.4" font-weight="normal" text-anchor="start" stroke="#000" stroke-width="0.36" textLength="24.5" lengthAdjust="spacingAndGlyphs">TNF</text>
<line x1="439.5" y1="231.5" x2="439.5" y2="320.5" stroke="#999" stroke-width="0.8"/>
<line x1="439.1" y1="320.5" x2="514.7" y2="320.5" stroke="#666" stroke-width="1.0"/>
<line x1="476.5" y1="320.5" x2="476.5" y2="322.5" stroke="#555" stroke-width="0.8"/>
<line x1="514.5" y1="320.5" x2="514.5" y2="322.5" stroke="#555" stroke-width="0.8"/>
<line x1="437.5" y1="233.5" x2="439.5" y2="233.5" stroke="#555" stroke-width="0.8"/>
<line x1="437.5" y1="277.5" x2="439.5" y2="277.5" stroke="#555" stroke-width="0.8"/>
<line x1="437.5" y1="320.5" x2="439.5" y2="320.5" stroke="#555" stroke-width="0.8"/>
<text x="423.0" y="237.1" font-size="13.0" font-weight="normal" text-anchor="start" stroke="#000" stroke-width="0.36" textLength="12.8" lengthAdjust="spacingAndGlyphs">50</text>
<text x="423.0" y="281.6" font-size="13.0" font-weight="normal" text-anchor="start" stroke="#000" stroke-width="0.36" textLength="12.8" lengthAdjust="spacingAndGlyphs">25</text>
<text x="430.20000000000005" y="323.6" font-size="13.0" font-weight="normal" text-anchor="start" stroke="#000" stroke-width="0.36" textLength="6.4" lengthAdjust="spacingAndGlyphs">0</text>
<text x="444.7" y="228" font-size="13.0" font-weight="normal" text-anchor="start" stroke="#000" stroke-width="0.36" textLength="22.4" lengthAdjust="spacingAndGlyphs">C3d</text>
<line x1="449.48" y1="271.1" x2="449.48" y2="286.0" stroke="#505050" stroke-width="0.75"/>
<line x1="447.78000000000003" y1="271.1" x2="451.18" y2="271.1" stroke="#505050" stroke-width="0.75"/>
<rect x="445.55" y="285.85" width="7.85" height="35.05" fill="#000" stroke="#000" stroke-width="0.7"/>
<line x1="458.02" y1="307.7" x2="458.02" y2="312.7" stroke="#505050" stroke-width="0.75"/>
<line x1="456.32" y1="307.7" x2="459.71999999999997" y2="307.7" stroke="#505050" stroke-width="0.75"/>
<rect x="454.10" y="312.55" width="7.85" height="8.35" fill="#c0c0c0" stroke="#555" stroke-width="0.7"/>
<line x1="466.57" y1="268.2" x2="466.57" y2="290.3" stroke="#505050" stroke-width="0.75"/>
<line x1="464.87" y1="268.2" x2="468.27" y2="268.2" stroke="#505050" stroke-width="0.75"/>
<rect x="462.65" y="290.15" width="7.85" height="30.75" fill="#7a7a7a" stroke="#555" stroke-width="0.7"/>
<line x1="487.27" y1="246.7" x2="487.27" y2="264.2" stroke="#505050" stroke-width="0.75"/>
<line x1="485.57" y1="246.7" x2="488.96999999999997" y2="246.7" stroke="#505050" stroke-width="0.75"/>
<rect x="483.35" y="264.05" width="7.85" height="56.85" fill="#000" stroke="#000" stroke-width="0.7"/>
<line x1="495.83" y1="276.5" x2="495.83" y2="293.0" stroke="#505050" stroke-width="0.75"/>
<line x1="494.13" y1="276.5" x2="497.53" y2="276.5" stroke="#505050" stroke-width="0.75"/>
<rect x="491.90" y="292.85" width="7.85" height="28.05" fill="#c0c0c0" stroke="#555" stroke-width="0.7"/>
<line x1="504.38" y1="242.7" x2="504.38" y2="268.7" stroke="#505050" stroke-width="0.75"/>
<line x1="502.68" y1="242.7" x2="506.08" y2="242.7" stroke="#505050" stroke-width="0.75"/>
<rect x="500.45" y="268.55" width="7.85" height="52.35" fill="#7a7a7a" stroke="#555" stroke-width="0.7"/>
<text x="441.4" y="336.5" font-size="13.0" font-weight="normal" text-anchor="start" stroke="#000" stroke-width="0.36" textLength="35.8" lengthAdjust="spacingAndGlyphs">Buffer</text>
<text x="485.3" y="336.1" font-size="11.4" font-weight="normal" text-anchor="start" stroke="#000" stroke-width="0.36" textLength="23.1" lengthAdjust="spacingAndGlyphs">TNF</text>
</svg>
</body></html>
